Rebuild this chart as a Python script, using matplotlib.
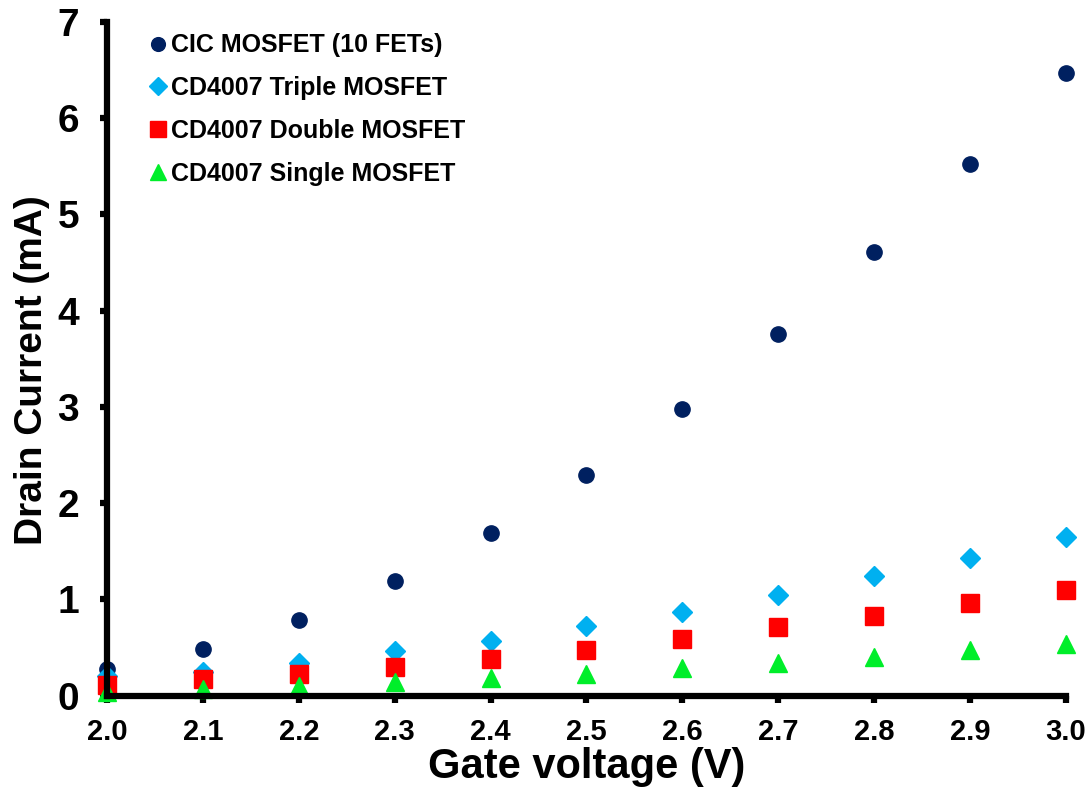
import numpy as np
import matplotlib.pyplot as plt

plt.rcParams['font.family'] = ['Liberation Sans', 'DejaVu Sans']
plt.rcParams['font.weight'] = 'bold'

# gate voltage sweep
vg = [2.0, 2.1, 2.2, 2.3, 2.4, 2.5, 2.6, 2.7, 2.8, 2.9, 3.0]

# drain currents (mA)
cic_10 = [0.28, 0.49, 0.79, 1.19, 1.69, 2.29, 2.98, 3.76, 4.61, 5.52, 6.47]
cd_triple = [0.20, 0.25, 0.34, 0.46, 0.57, 0.72, 0.87, 1.05, 1.24, 1.43, 1.65]
cd_double = [0.11, 0.17, 0.23, 0.30, 0.38, 0.48, 0.59, 0.71, 0.83, 0.96, 1.10]
cd_single = [0.04, 0.07, 0.10, 0.14, 0.18, 0.23, 0.29, 0.34, 0.40, 0.47, 0.54]

fig = plt.figure(figsize=(10.92, 8.09), dpi=100)
ax = fig.add_axes([0.098, 0.14, 0.878, 0.833])

ax.plot(vg, cic_10, 'o', color='#002060', ms=11, label='CIC MOSFET (10 FETs)', clip_on=False)
ax.plot(vg, cd_triple, 'D', color='#00B0F0', ms=10.5, label='CD4007 Triple MOSFET', clip_on=False)
ax.plot(vg, cd_double, 's', color='#FF0000', ms=13, label='CD4007 Double MOSFET', clip_on=False)
ax.plot(vg, cd_single, '^', color='#00EE2A', ms=13, label='CD4007 Single MOSFET', clip_on=False)

ax.set_xlim(2.0, 3.0)
ax.set_ylim(0, 7)
ax.set_xticks(np.arange(2.0, 3.01, 0.1))
ax.set_xticklabels([f'{v:.1f}' for v in np.arange(2.0, 3.01, 0.1)])
ax.set_yticks(range(0, 8))

for s in ['top', 'right']:
    ax.spines[s].set_visible(False)
for s in ['left', 'bottom']:
    ax.spines[s].set_linewidth(4.5)
ax.tick_params(width=4.5, length=5)
ax.tick_params(axis='x', labelsize=21, pad=11)
ax.tick_params(axis='y', labelsize=28, pad=15)

ax.set_xlabel('Gate voltage (V)', fontsize=30, fontweight='bold', labelpad=1)
ax.set_ylabel('Drain Current (mA)', fontsize=28, fontweight='bold')
ax.yaxis.set_label_coords(-0.059, 0.483)

ax.legend(loc='upper left', bbox_to_anchor=(0.026, 1.005), frameon=False, fontsize=18,
          markerscale=0.9, handletextpad=0.05, handlelength=0.9, labelspacing=0.75,
          borderaxespad=0.2)

fig.savefig('out.png', dpi=100)
